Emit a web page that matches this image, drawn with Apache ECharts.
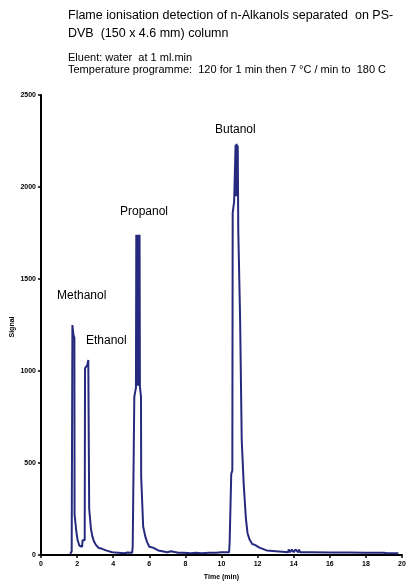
<!DOCTYPE html>
<html>
<head>
<meta charset="utf-8">
<script src="https://cdn.jsdelivr.net/npm/echarts@6/dist/echarts.min.js"></script>
<style>
html,body{margin:0;padding:0;background:#fff;}
#chart{width:406px;height:582px;}
</style>
</head>
<body>
<div id="chart"></div>
<script>
// Chromatogram trace: retention time (min) and detector signal
const timeMin = [
  1.62, 1.70, 1.74, 1.80, 1.85, 1.86, 1.95, 1.96, 2.02, 2.03, 2.12, 2.13, 2.28, 2.30, 2.42,
  2.44, 2.56, 2.62, 2.66, 2.67, 2.76, 2.77, 2.84, 2.85, 2.92, 2.93, 3.02, 3.04, 3.15, 3.20,
  3.35, 3.40, 3.60, 3.65, 3.95, 4.00, 4.60, 4.80, 4.85, 5.05, 5.08, 5.16, 5.17, 5.26, 5.28,
  5.31, 5.34, 5.37, 5.40, 5.43, 5.46, 5.48, 5.54, 5.55, 5.64, 5.66, 5.76, 5.78, 5.86, 5.88,
  5.98, 6.00, 6.20, 6.25, 6.50, 6.60, 7.00, 7.20, 7.30, 7.60, 7.70, 7.90, 8.00, 8.30, 8.40,
  8.60, 8.70, 8.90, 9.00, 9.30, 9.40, 9.70, 10.00, 10.42, 10.45, 10.52, 10.54, 10.60, 10.62, 10.70,
  10.78, 10.81, 10.84, 10.87, 10.90, 10.93, 11.02, 11.03, 11.11, 11.12, 11.22, 11.23, 11.34, 11.35, 11.43,
  11.44, 11.52, 11.55, 11.65, 11.70, 11.85, 11.90, 12.10, 12.15, 12.50, 12.55, 13.70, 13.72, 13.80, 13.90,
  14.00, 14.10, 14.15, 14.25, 14.30, 14.35, 15.00, 16.00, 17.00, 18.00, 19.00, 19.10, 19.20, 19.30, 19.40,
  19.50, 19.60, 19.70, 19.80
];
const signal = [
  5, 20, 1250, 1195, 1180, 220, 215, 125, 115, 80, 75, 50, 45, 80, 80,
  1015, 1030, 1060, 1050, 250, 245, 140, 135, 100, 95, 75, 70, 55, 50, 38,
  35, 25, 25, 18, 15, 10, 10, 14, 5, 12, 45, 50, 860, 910, 1740,
  920, 1740, 920, 1740, 920, 1740, 915, 860, 425, 420, 155, 150, 100, 95, 70,
  65, 45, 40, 30, 25, 18, 15, 20, 12, 12, 18, 12, 15, 10, 18,
  12, 16, 10, 18, 12, 15, 12, 15, 15, 65, 70, 440, 460, 1860, 1920,
  2230, 1950, 2235, 1950, 2225, 1760, 1755, 1290, 1285, 625, 620, 385, 380, 200, 195,
  120, 110, 85, 80, 60, 55, 45, 40, 30, 25, 18, 15, 30, 15, 30,
  15, 30, 25, 15, 30, 15, 15, 14, 13, 12, 12, 20, 10, 18, 10,
  18, 10, 16, 10
];
const xTicks = {min: 0, max: 20, interval: 2};
const yTicks = {min: 0, max: 2500, interval: 500};
const titleLines = [
  'Flame ionisation detection of n-Alkanols separated  on PS-',
  'DVB  (150 x 4.6 mm) column'
];
const noteLines = [
  'Eluent: water  at 1 ml.min',
  'Temperature programme:  120 for 1 min then 7 \u00B0C / min to  180 C'
];
const peakNames = ['Methanol', 'Ethanol', 'Propanol', 'Butanol'];
const xName = 'Time (min)';
const yName = 'Signal';

const FONT = '"Liberation Sans", Arial, sans-serif';
const chart = echarts.init(document.getElementById('chart'));
const pts = timeMin.map((t, i) => [t, signal[i]]);

function txt(x, y, s, size) {
  return {
    type: 'text', left: x, top: y,
    style: {text: s, fontFamily: FONT, fontSize: size, fill: '#000'}
  };
}

chart.setOption({
  animation: false,
  backgroundColor: '#fff',
  grid: {left: 41, right: 4, top: 95, bottom: 27, containLabel: false, outerBoundsMode: 'none'},
  xAxis: {
    type: 'value', min: xTicks.min, max: xTicks.max, interval: xTicks.interval,
    name: xName, nameLocation: 'middle', nameGap: 19,
    nameTextStyle: {fontFamily: FONT, fontSize: 7, fontWeight: 'bold', color: '#000'},
    axisLine: {lineStyle: {color: '#000', width: 2}},
    axisTick: {length: 3, lineStyle: {color: '#000', width: 1.5}},
    axisLabel: {fontFamily: FONT, fontSize: 7, fontWeight: 'bold', color: '#000', margin: 6,
      formatter: v => String(v)},
    splitLine: {show: false}
  },
  yAxis: {
    type: 'value', min: yTicks.min, max: yTicks.max, interval: yTicks.interval,
    axisLine: {show: true, lineStyle: {color: '#000', width: 2}},
    axisTick: {show: true, length: 3, lineStyle: {color: '#000', width: 1.5}},
    axisLabel: {fontFamily: FONT, fontSize: 7, fontWeight: 'bold', color: '#000', margin: 5,
      formatter: v => String(v)},
    splitLine: {show: false}
  },
  series: [{
    type: 'line', data: pts, showSymbol: false, symbol: 'none',
    lineStyle: {color: '#262a7e', width: 2},
    silent: true
  }],
  graphic: [
    txt(68, 9, titleLines[0], 12.5),
    txt(68, 27, titleLines[1], 12.5),
    txt(68, 52, noteLines[0], 11),
    txt(68, 64, noteLines[1], 11),
    txt(57, 290, peakNames[0], 12),
    txt(86, 335, peakNames[1], 12),
    txt(120, 206, peakNames[2], 12),
    txt(215, 124, peakNames[3], 12),
    {
      type: 'text', x: 12, y: 327, rotation: Math.PI / 2,
      style: {text: yName, fontFamily: FONT, fontSize: 7, fontWeight: 'bold', fill: '#000',
        align: 'center', verticalAlign: 'middle'}
    }
  ]
});
</script>
</body>
</html>
